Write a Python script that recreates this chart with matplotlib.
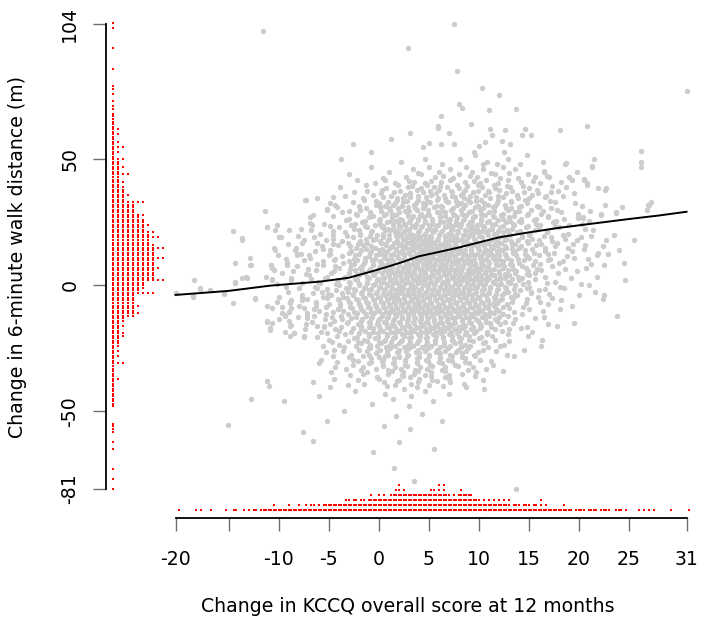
import matplotlib
matplotlib.use("Agg")
import matplotlib.pyplot as plt
import numpy as np

# ---------------------------------------------------------------
# scatter: KCCQ change values (x) read per walk-distance level (y)
# ---------------------------------------------------------------
walk_levels = list(range(50, -49, -1))
kccq_rows = [
    [-3.8, 4.6, 8.1, 12.9, 21.5],                                   # 50
    [2.2, 10.8, 16.4, 26.2],
    [6.3, 10.4, 11.8, 14.1, 18.6],
    [-0.8, 5.0, 8.7, 12.4, 21.3, 26.2],
    [3.4, 7.1, 10.4, 13.6],
    [1.0, 6.0, 9.3, 16.5, 19.8],                                    # 45
    [-3.0, 4.2, 8.0, 11.6, 14.9],
    [2.7, 5.6, 9.8, 15.6, 17.0, 19.0],
    [-2.2, 0.6, 7.1, 10.7, 12.9, 19.3, 20.5],
    [3.5, 6.2, 8.6, 14.2, 18.2],
    [-1.3, 1.9, 4.8, 7.8, 9.9, 11.5, 20.8],                         # 40
    [-3.9, 2.9, 5.5, 6.8, 10.3, 13.1, 18.7],
    [0.3, 3.8, 6.0, 8.6, 12.0, 15.8, 22.6],
    [-2.5, 1.5, 4.4, 7.3, 9.4, 11.0, 14.5, 17.2],
    [-0.6, 2.6, 5.2, 6.5, 8.2, 10.6, 13.8, 15.3],
    [-4.6, 0.4, 3.1, 4.7, 7.6, 9.7, 12.4, 16.6],                    # 35
    [-7.3, -1.5, 1.8, 3.9, 5.8, 8.9, 10.2, 11.9, 14.6],
    [-2.6, 0.9, 2.4, 5.1, 6.9, 9.1, 13.2, 17.6],
    [-4.4, -0.3, 1.4, 3.5, 4.6, 7.8, 8.6, 10.9, 12.6, 22.6, 27.0],
    [-4.2, 0.1, 2.9, 5.5, 6.3, 9.6, 11.4, 14.0, 16.0, 24.3],
    [-5.2, -1.9, 1.1, 3.8, 4.9, 7.2, 8.2, 10.1, 12.9, 15.2, 17.8, 26.8],  # 30
    [-3.7, -0.9, 2.0, 2.8, 5.8, 6.6, 9.0, 11.0, 13.6, 18.2, 23.7],
    [-6.6, -2.2, 0.5, 1.7, 4.1, 5.0, 7.5, 8.7, 10.6, 12.2, 14.8, 22.2],
    [-6.9, -1.0, 1.3, 3.3, 4.5, 6.1, 7.8, 9.4, 11.5, 13.0, 16.9, 19.9, 20.4],
    [-3.3, 0.0, 2.3, 3.9, 5.3, 6.9, 8.4, 10.2, 11.9, 15.5],
    [-1.7, 0.8, 1.9, 3.0, 4.6, 6.4, 7.0, 9.1, 10.8, 12.7, 14.2, 17.4],     # 25
    [-10.2, -6.7, -2.8, -0.4, 1.4, 2.6, 5.0, 5.9, 7.6, 8.9, 9.8, 11.3, 13.5, 16.1, 19.0],
    [-11.2, -4.0, -1.2, 0.3, 2.1, 3.6, 4.2, 6.6, 8.1, 10.5, 12.1, 14.7, 18.0],
    [-10.4, -9.0, -6.8, -2.0, 0.6, 1.1, 3.0, 4.8, 5.6, 7.2, 8.6, 9.5, 11.0, 12.8, 15.6, 21.4],
    [-3.4, -0.8, 1.6, 2.5, 3.9, 5.4, 6.2, 7.9, 9.9, 10.7, 12.4, 13.8, 16.8],
    [-4.6, -1.9, -0.2, 1.0, 2.2, 3.4, 4.5, 6.0, 7.1, 8.4, 9.2, 10.9, 11.7, 13.1, 15.0, 18.4, 23.5],  # 20
    [-10.0, -9.8, -6.5, -2.6, 0.4, 1.8, 3.0, 4.1, 5.2, 6.6, 7.6, 8.9, 10.3, 12.0, 14.3, 17.2, 20.2],
    [-13.7, -7.5, -5.3, -0.6, 0.9, 2.6, 3.8, 4.9, 5.8, 7.3, 8.0, 9.6, 11.2, 12.6, 13.9, 16.0, 19.8, 22.7],
    [-7.7, -6.2, -3.1, -1.2, 0.2, 1.5, 2.8, 4.4, 5.5, 6.8, 8.4, 9.8, 10.9, 12.2, 14.9, 17.8],
    [-4.1, -1.6, 0.7, 2.0, 3.3, 4.0, 5.1, 6.3, 7.0, 8.8, 9.3, 10.5, 11.8, 13.3, 15.7, 20.6],
    [-10.5, -8.3, -2.3, -0.4, 1.1, 2.4, 3.6, 4.7, 6.0, 7.4, 8.1, 9.9, 11.4, 12.7, 14.0, 16.6, 18.9],  # 15
    [-10.4, -8.4, -4.9, -1.8, 0.0, 1.7, 2.9, 3.4, 5.0, 6.6, 7.7, 8.6, 10.0, 11.1, 12.3, 14.6, 24.0],
    [-3.0, -0.9, 0.6, 2.0, 3.0, 4.4, 5.6, 6.2, 7.9, 9.2, 10.4, 11.9, 13.4, 15.5, 17.5],
    [-10.1, -8.2, -7.0, -5.0, -2.4, -0.3, 1.2, 2.5, 3.9, 4.9, 6.0, 7.1, 8.4, 9.5, 10.9, 12.0, 13.7, 16.0, 21.8],
    [-12.9, -6.9, -1.4, 0.5, 1.9, 3.2, 4.3, 5.4, 6.5, 7.6, 8.9, 10.1, 11.4, 12.8, 15.0, 19.5],
    [-7.5, -4.5, -2.2, -0.7, 0.9, 2.2, 3.5, 4.1, 5.7, 6.9, 8.0, 8.7, 10.2, 11.6, 13.2, 14.5, 16.9],  # 10
    [-14.4, -9.2, -3.6, -1.5, 0.2, 1.4, 2.7, 3.8, 5.0, 6.2, 7.3, 8.5, 9.6, 11.0, 12.3, 14.0, 18.0],
    [-12.8, -10.8, -5.6, -2.8, -0.6, 0.6, 2.0, 3.1, 4.5, 5.5, 6.6, 7.8, 9.1, 10.4, 11.9, 13.3, 15.4, 22.5],
    [-10.7, -4.0, -1.9, 0.0, 1.2, 2.4, 3.6, 4.8, 6.1, 7.2, 8.3, 9.8, 10.8, 12.4, 14.7, 20.7],
    [-10.5, -6.3, -2.4, -1.0, 0.7, 1.8, 2.9, 4.1, 5.2, 6.4, 7.5, 8.9, 10.0, 11.2, 12.9, 16.2],
    [-9.7, -4.8, -3.0, -1.4, 0.3, 1.5, 2.6, 3.5, 4.6, 5.9, 7.0, 8.1, 9.3, 10.6, 12.0, 13.6, 15.6, 17.9],  # 5
    [-7.0, -2.0, -0.5, 1.0, 2.1, 3.2, 4.3, 5.4, 6.7, 7.9, 9.0, 10.2, 11.5, 13.0, 15.0],
    [-13.7, -13.2, -8.8, -5.4, -3.5, -1.0, 0.5, 1.6, 2.8, 4.0, 5.1, 6.0, 7.4, 8.6, 9.8, 11.0, 12.6, 14.3, 19.2],
    [-18.5, -10.7, -8.8, -4.1, -2.2, -0.2, 1.1, 2.3, 3.7, 4.5, 5.8, 6.9, 8.3, 9.5, 10.8, 12.1, 14.0, 24.6],
    [-14.4, -7.7, -5.9, -2.9, -1.2, 0.2, 1.4, 2.6, 3.9, 5.0, 6.3, 7.6, 8.8, 10.0, 11.5, 13.1, 16.8],
    [-4.0, -2.0, -0.6, 0.8, 2.0, 3.2, 4.4, 5.5, 6.7, 7.9, 9.1, 10.4, 11.9, 13.6, 21.0],  # 0
    [-17.9, -8.0, -6.2, -3.3, -1.5, 0.0, 1.3, 2.4, 3.4, 4.9, 6.1, 7.2, 8.5, 9.6, 11.1, 12.7, 14.8, 18.5],
    [-16.9, -4.3, -2.4, -1.0, 0.5, 1.7, 2.9, 4.0, 5.3, 6.5, 7.6, 9.0, 10.3, 11.8, 14.1, 16.0],
    [-20.3, -15.5, -6.6, -3.7, -1.8, -0.3, 1.0, 2.2, 3.4, 4.6, 5.9, 7.0, 8.2, 9.6, 11.0, 12.5, 15.2],
    [-18.6, -7.7, -4.8, -2.6, -0.8, 0.6, 1.8, 3.0, 4.2, 5.5, 6.6, 7.9, 9.3, 10.7, 12.3, 13.8, 20.0],
    [-12.4, -5.2, -3.2, -1.4, 0.1, 1.4, 2.5, 3.8, 5.0, 6.2, 7.4, 8.7, 10.0, 11.6, 13.4, 17.3],  # -5
    [-8.8, -7.7, -4.0, -2.1, -0.5, 0.9, 2.0, 3.3, 4.4, 5.7, 7.0, 8.1, 9.5, 10.9, 12.1],
    [-14.6, -8.9, -6.3, -2.9, -1.1, 0.4, 1.6, 2.9, 4.0, 5.2, 6.4, 7.7, 9.0, 10.4, 11.8, 14.7],
    [-11.2, -8.0, -6.3, -3.9, -1.9, -0.3, 1.1, 2.3, 3.6, 4.8, 6.0, 7.2, 8.4, 9.9, 11.5, 19.3],
    [-10.7, -8.8, -7.5, -2.7, -0.9, 0.6, 1.8, 3.1, 4.3, 5.6, 6.8, 8.0, 9.4, 10.9, 13.0],
    [-6.0, -3.6, -1.6, 0.0, 1.4, 2.6, 3.9, 5.1, 6.3, 7.6, 8.8, 10.3, 12.0, 16.4],  # -10
    [-9.7, -7.2, -2.2, -0.5, 1.0, 2.2, 3.4, 4.7, 5.9, 7.1, 8.5, 9.9, 11.5],
    [-9.4, -6.5, -3.8, -1.3, 0.3, 1.7, 2.9, 4.2, 5.4, 6.7, 8.0, 9.4, 11.0, 12.9],
    [-7.2, -2.8, -0.8, 0.8, 2.3, 3.6, 4.9, 6.2, 7.6, 9.0, 10.6, 15.6],
    [-11.2, -9.0, -4.5, -1.8, -0.1, 1.4, 2.8, 4.1, 5.5, 6.8, 8.3, 9.9, 11.8],
    [-10.7, -3.2, -0.9, 0.7, 2.1, 3.5, 4.9, 6.3, 7.6, 9.2, 11.1, 13.4],  # -15
    [-8.9, -6.2, -5.5, -1.8, 0.0, 1.5, 3.0, 4.4, 5.8, 7.2, 8.6, 10.2, 17.8],
    [-10.9, -2.6, -0.6, 1.0, 2.5, 4.0, 5.4, 6.9, 8.4, 10.1, 14.2],
    [-4.0, -1.4, 0.4, 2.0, 3.5, 5.0, 6.5, 8.0, 9.7, 12.3],
    [-8.5, -5.2, -2.0, -0.1, 1.6, 3.1, 4.7, 6.2, 7.8, 9.5],
    [-8.9, -7.5, -4.2, -1.0, 0.8, 2.5, 4.1, 5.7, 7.3, 9.0, 11.3, 14.9],  # -20
    [-2.5, -0.4, 1.4, 3.0, 4.7, 6.4, 8.2, 10.0],
    [-3.1, -1.2, 0.5, 2.2, 3.9, 5.6, 7.4, 9.4, 13.0],
    [-1.8, 0.2, 2.0, 3.8, 5.6, 7.6, 10.4],
    [-5.6, -2.3, -0.2, 1.6, 3.4, 5.2, 7.1, 9.1, 12.1],
    [-0.9, 1.1, 3.0, 4.9, 6.9, 8.9],                                 # -25
    [-3.6, -1.2, 0.8, 2.7, 4.6, 6.6, 8.7, 11.7],
    [-0.3, 1.9, 4.0, 6.1, 8.3],
    [-4.6, -1.6, 0.6, 2.8, 5.0, 7.3, 9.6, 13.5],
    [-0.8, 1.5, 3.8, 6.1, 8.6],
    [-2.1, 0.3, 2.6, 4.9, 7.3, 11.2],                                # -30
    [-6.0, -1.0, 1.4, 3.8, 6.3, 9.0],
    [0.4, 2.8, 5.3, 7.9],
    [-3.3, -0.3, 2.2, 4.8, 10.7],
    [1.3, 3.9, 6.6, 12.4],
    [-1.6, 0.9, 3.5, 8.3],                                           # -35
    [2.4, 5.2, 9.6],
    [-4.5, 0.0, 4.0, 7.0],
    [-11.2, 1.8, 5.8],
    [-1.5, 3.2, 8.5],
    [-11.0, 0.8, 6.4],                                               # -40
    [2.5, 10.5],
    [-2.4, 4.6],
    [0.6, 7.0],
    [-6.0, 3.2],
    [-12.8, 1.4],                                                    # -45
    [-9.5, 5.4],
    [-0.7],
    [3.0],
]

# second pass over the dense band (patients between the whole-metre levels)
walk_levels_b = [v + 0.5 for v in range(44, -42, -1)]
kccq_rows_b = [
    [3.9, 11.2, 13.0],                                               # 44.5
    [6.4, 9.1, 16.8],
    [0.4, 7.4, 12.1, 13.9],
    [3.0, 5.2, 9.5, 15.4],
    [-0.4, 1.6, 4.6, 10.1, 11.9, 16.1],
    [3.3, 6.1, 8.8, 12.8, 14.4, 17.3],                               # 39.5
    [0.7, 4.2, 8.0, 11.6, 15.0, 21.9],
    [-1.2, 2.1, 5.1, 7.2, 9.9, 10.9, 13.3, 17.9],
    [0.2, 3.1, 5.7, 8.4, 12.7, 15.9, 19.5],
    [-3.4, 1.2, 3.9, 7.3, 9.1, 11.9, 16.7, 18.4],
    [-1.6, 1.8, 2.4, 5.9, 6.6, 8.5, 11.1, 13.9, 15.0],               # 34.5
    [-0.3, 2.8, 4.8, 6.7, 7.7, 9.7, 13.2, 17.1],
    [-4.9, 0.0, 1.6, 3.7, 4.4, 7.9, 8.2, 10.5, 11.8, 14.8, 19.6],
    [-2.0, 0.6, 2.3, 5.7, 6.2, 9.9, 11.6, 14.2, 15.8, 20.3],
    [-1.3, 1.0, 1.9, 3.6, 4.4, 7.4, 8.4, 10.4, 12.7, 13.2, 17.2],
    [-3.0, 0.2, 2.6, 3.0, 6.2, 9.3, 11.5, 14.0, 16.4, 21.1],         # 29.5
    [-2.3, 0.7, 1.3, 4.2, 4.9, 7.4, 8.3, 10.2, 12.4, 14.9, 16.2, 19.9],
    [-4.6, -0.6, 2.9, 3.4, 6.1, 6.6, 9.6, 11.4, 13.5, 16.9],
    [-3.0, 0.1, 2.1, 3.9, 5.3, 7.1, 8.5, 10.2, 12.4, 14.2, 15.7, 18.5],
    [-1.4, 1.2, 1.7, 3.1, 4.6, 6.1, 7.7, 9.3, 11.0, 13.1, 14.0, 17.7, 21.0],
    [-5.5, -2.4, 0.1, 2.5, 3.7, 5.4, 7.8, 8.2, 10.1, 11.6, 13.4, 15.7, 20.3],  # 24.5
    [-4.9, -1.4, 0.4, 2.0, 3.3, 4.3, 6.8, 7.2, 9.3, 10.4, 12.4, 14.9, 17.6],
    [-7.8, -2.5, 0.9, 1.5, 2.8, 5.1, 5.6, 7.3, 9.1, 9.8, 11.3, 13.3, 15.9, 20.6],
    [-4.6, -0.7, 1.9, 2.5, 4.0, 6.3, 7.8, 9.1, 10.3, 11.9, 14.1, 16.8],
    [-5.9, -1.9, 0.4, 2.0, 3.1, 4.6, 6.9, 7.2, 8.6, 9.4, 11.5, 13.0, 15.1, 18.9],
    [-8.1, -3.2, -0.9, 0.4, 1.7, 2.8, 3.9, 5.1, 6.6, 7.7, 8.9, 10.0, 12.4, 14.3, 16.5, 21.2],  # 19.5
    [-4.6, -1.3, -0.4, 1.0, 2.4, 3.5, 4.7, 5.9, 7.1, 8.3, 9.5, 11.3, 12.7, 15.3, 18.6],
    [-3.7, -1.9, 0.1, 1.8, 3.2, 4.3, 5.2, 6.6, 7.7, 8.7, 10.4, 11.8, 13.2, 14.8, 17.3],
    [-9.1, -4.6, -2.1, 0.6, 2.2, 3.5, 4.9, 6.1, 7.6, 9.0, 10.3, 11.6, 13.6, 16.2, 19.4],
    [-5.7, -2.9, -0.8, 1.3, 2.6, 3.9, 4.6, 5.7, 6.8, 7.7, 9.8, 11.2, 12.6, 14.2, 17.6, 22.4],
    [-5.6, -1.3, 0.3, 1.7, 3.0, 4.2, 5.4, 6.6, 7.8, 9.2, 10.6, 12.0, 13.3, 15.3, 20.5],  # 14.5
    [-6.4, -2.8, -0.8, 0.8, 2.3, 4.1, 4.6, 5.7, 7.2, 8.2, 9.2, 10.6, 11.8, 13.6, 16.6, 19.3],
    [-7.8, -4.9, -2.0, 0.1, 1.4, 2.5, 3.7, 5.0, 6.8, 7.3, 8.6, 9.8, 11.2, 12.6, 14.6, 16.9, 22.9],
    [-3.7, -1.0, 0.6, 1.8, 3.2, 4.4, 5.3, 6.5, 7.6, 9.0, 10.2, 11.5, 12.7, 14.8, 18.8],
    [-9.3, -4.4, -2.5, -0.4, 1.2, 2.5, 3.7, 4.8, 6.0, 7.0, 8.2, 9.5, 10.7, 12.0, 13.9, 17.1, 20.9],
    [-5.6, -3.0, -1.4, 0.1, 1.4, 2.8, 4.7, 5.1, 6.3, 7.5, 9.2, 10.3, 10.9, 12.4, 15.6, 18.4],  # 9.5
    [-6.2, -2.5, -0.6, 0.9, 2.0, 3.3, 4.4, 5.6, 6.7, 7.9, 9.0, 10.2, 11.7, 13.1, 16.1, 21.2],
    [-8.2, -4.4, -1.7, 0.1, 1.3, 2.6, 3.8, 5.0, 6.1, 7.2, 8.4, 9.6, 10.9, 12.5, 14.3, 17.3],
    [-7.1, -2.9, -0.9, 0.6, 1.8, 3.0, 4.2, 5.5, 6.7, 7.8, 9.1, 10.2, 11.5, 13.4, 15.8, 18.6],
    [-8.6, -4.5, -1.7, -0.2, 1.2, 2.3, 3.5, 4.6, 5.8, 7.0, 8.2, 9.5, 10.7, 12.0, 13.7, 14.9, 19.8],
    [-7.3, -2.2, -0.6, 0.9, 2.0, 3.1, 4.1, 5.3, 6.5, 7.6, 8.7, 9.9, 11.2, 12.6, 14.8],  # 4.5
    [-11.3, -5.2, -3.4, -1.2, 0.4, 1.6, 2.7, 3.8, 4.9, 6.1, 7.3, 8.4, 9.6, 10.8, 12.1, 13.9, 16.6, 21.8],
    [-6.8, -2.4, -0.1, 1.1, 2.2, 3.4, 4.6, 5.7, 6.8, 7.9, 9.1, 10.3, 11.7, 13.3, 15.6],
    [-6.1, -3.0, -1.2, 0.4, 1.7, 2.9, 4.0, 5.2, 6.4, 7.6, 8.8, 10.1, 11.4, 12.9, 14.9, 17.6],
    [-10.2, -4.3, -2.0, -0.4, 0.8, 2.0, 3.3, 4.5, 5.6, 6.9, 8.1, 9.4, 10.6, 12.2, 14.4, 20.2],
    [-9.3, -6.4, -3.0, -1.4, 0.1, 1.2, 2.4, 3.6, 4.9, 6.1, 7.3, 8.6, 9.8, 11.1, 12.6, 15.0, 18.1],  # -0.5
    [-5.2, -2.5, -0.8, 0.6, 1.9, 3.0, 4.2, 5.5, 6.7, 7.9, 9.1, 10.5, 11.9, 13.5, 16.6],
    [-9.1, -5.7, -3.1, -1.7, -0.2, 1.1, 2.3, 3.5, 4.7, 5.9, 7.1, 8.4, 9.7, 11.0, 12.9, 15.2, 21.6],
    [-5.1, -2.6, -1.0, 0.4, 1.6, 2.8, 4.0, 5.2, 6.5, 7.6, 8.9, 10.3, 11.7, 13.6, 17.0],
    [-10.0, -5.6, -3.6, -1.6, -0.1, 1.2, 2.5, 3.6, 4.8, 6.1, 7.3, 8.5, 9.9, 11.5, 13.2, 15.9],
    [-7.2, -4.1, -2.3, -0.6, 0.8, 1.9, 3.2, 4.4, 5.6, 6.8, 8.1, 9.3, 10.8, 12.3, 14.8, 22.4],  # -5.5
    [-10.2, -6.3, -3.0, -1.3, 0.2, 1.5, 2.6, 3.9, 5.1, 6.4, 7.6, 8.8, 10.2, 11.5, 13.3, 16.1],
    [-5.0, -3.9, -2.0, -0.4, 1.0, 2.2, 3.5, 4.6, 5.9, 7.1, 8.4, 9.6, 11.0, 12.8, 16.9],
    [-9.7, -5.3, -2.9, -1.1, 0.4, 1.7, 2.9, 4.1, 5.4, 6.6, 7.9, 9.1, 10.6, 12.4, 14.4],
    [-6.5, -4.1, -1.8, -0.2, 1.2, 2.4, 3.6, 4.9, 6.1, 7.4, 8.6, 10.0, 11.7, 15.0, 18.1],
    [-9.0, -4.6, -2.5, -0.8, 0.7, 2.0, 3.2, 4.5, 5.7, 6.9, 8.2, 9.6, 11.1, 13.5],  # -10.5
    [-5.3, -3.1, -1.3, 0.3, 1.6, 2.9, 4.1, 5.3, 6.6, 7.9, 9.2, 10.6, 12.4, 14.3],
    [-8.1, -4.7, -2.3, -0.7, 0.9, 2.3, 3.5, 4.8, 6.1, 7.3, 8.7, 10.3, 12.0, 16.5],
    [-10.0, -5.4, -3.7, -1.7, 0.0, 1.5, 2.9, 4.2, 5.5, 6.9, 8.3, 9.7, 11.6, 13.6],
    [-6.7, -3.1, -1.0, 0.5, 2.0, 3.4, 4.7, 6.1, 7.5, 9.0, 10.7, 12.6],
    [-7.3, -4.9, -2.1, -0.2, 1.3, 2.8, 4.2, 5.6, 7.0, 8.4, 10.1, 12.1, 16.9],  # -15.5
    [-3.8, -1.0, 0.8, 2.3, 3.7, 5.1, 6.5, 8.0, 9.4, 11.2, 14.8],
    [-7.4, -4.4, -1.8, 0.1, 1.7, 3.2, 4.7, 6.1, 7.6, 9.2, 11.6, 13.0],
    [-9.4, -5.8, -2.8, -0.6, 1.2, 2.7, 4.2, 5.7, 7.2, 8.7, 10.8, 15.3],
    [-3.4, -1.0, 0.8, 2.3, 3.9, 5.4, 7.0, 8.6, 10.8, 12.9],
    [-6.2, -2.2, -0.1, 1.6, 3.2, 4.8, 6.4, 8.0, 10.2],                 # -20.5
    [-5.0, -1.5, 0.6, 2.3, 4.0, 5.6, 7.3, 9.0, 11.6, 16.3],
    [-4.7, -2.1, 0.0, 1.2, 3.1, 4.8, 6.5, 8.1, 10.6],
    [-4.0, -0.9, 1.1, 2.9, 4.7, 6.5, 8.6, 12.5],
    [-3.5, -1.0, 0.7, 2.5, 4.3, 6.1, 8.2, 10.9],
    [-4.5, -2.0, 0.1, 2.0, 3.9, 5.8, 7.9, 10.4, 14.5],                # -25.5
    [-5.3, -0.2, 1.8, 3.7, 5.7, 7.7, 9.9],
    [-2.8, -1.0, 0.9, 2.9, 5.0, 7.1, 9.5, 12.8],
    [-3.0, 0.0, 2.0, 4.0, 6.1, 8.3],
    [-5.8, -2.6, 0.4, 2.6, 4.7, 6.9, 10.1],
    [-4.2, -0.8, 1.5, 3.8, 6.0, 8.6],                                 # -30.5
    [-2.6, 0.4, 2.6, 5.1, 7.6, 11.4],
    [-4.4, -1.6, 1.6, 4.1, 6.6, 9.4],
    [-1.8, 0.9, 3.6, 6.3, 8.9],
    [-4.8, -1.2, 2.4, 5.2, 9.7],
    [-2.9, 2.3, 4.6, 7.0],                                            # -35.5
    [-0.2, 3.1, 6.6],
    [-2.1, 2.0, 5.3, 10.4],
    [-6.6, 0.5, 3.9, 7.1],
    [-3.1, 1.6, 5.0],
    [-4.9, 3.8, 8.7],                                                 # -40.5
]

# single points away from the bulk (upper tail, lower tail, sides)
extra_kccq = [-11.6, 2.9, 7.5, 7.8, 10.3, 12.0, 8.0, 8.3, 11.0, 13.7, 30.8,
              6.2, 5.9, 5.9, 9.2, 18.1, 20.8, 14.3, 14.6, 12.6, 11.1, 11.3,
              12.3, 13.1, 10.6, 10.0, 7.0, 7.5, 6.2, 5.0, 4.4, 12.5, 9.5,
              9.6, 14.8, 15.2, 26.2, -2.6, 1.2, 3.1, -0.8,
              22.7, 23.7, 26.9, 27.2, 26.8, 21.3, 18.7, 20.5, 20.8, 19.0,
              16.5, 17.2, 19.9, 20.4, 22.2, 18.2, 21.9, 24.5, 22.5, 23.8,
              19.5, 25.5, 16.2,
              -11.4, -7.4, -6.2, -5.2, -14.6, -13.7, -11.2, -10.0, -12.9,
              -14.4, -17.9, -18.6, -15.5, -13.3, -12.4, -10.8, -9.2, -10.7,
              -8.9, -11.2, -10.9, -9.4, -8.8, -7.7, -8.2, -6.9, -7.2, -8.5,
              -7.5, -5.5,
              -3.5, 4.3, 1.7, -5.2, 6.3, -15.1, 0.5, -7.6, 3.1, -6.6, 2.0,
              5.5, -0.6, 1.5, 3.5, 13.7]
extra_walk = [101, 94, 103.7, 85, 78.5, 75.4, 72, 70.5, 69.6, 69.9, 77,
              67, 63.4, 62.3, 64, 61.5, 63.3, 59.7, 61.9, 61.7, 62, 59.7,
              57.3, 56, 57, 55.3, 60.4, 56, 56, 56.4, 55, 53, 53,
              51.7, 51.7, 59.7, 53.5, 56, 58, 60.5, 53,
              38.5, 28.8, 32, 33.2, 30, 47.4, 48.4, 42.1, 40.5, 43.1,
              45.5, 37.2, 26.9, 26.9, 28.3, -6, 13, 9, -4, -12,
              -15, 18, -24,
              29.6, 33.9, 34.6, 30.3, 21.7, 18.9, 23.3, 19.3, 8.1,
              1.5, -1.5, -4.5, -3.4, 3.2, -5.5, 8.1, 8.1, 2.4,
              -6.7, -14.4, -17.7, -11.7, -15.7, -5.1, 12.5, 24.6, -11.7, -19,
              -20.4, -16.4,
              -50, -51, -52, -54, -54, -55.5, -56, -58.3, -57, -61.9, -62,
              -65, -66, -72.4, -77.5, -80.7]

# smoothed (lowess) curve
smooth_kccq = [-20.3, -15, -10.8, -5.8, -3, -0.8, 1, 2.5, 4, 6.2, 8, 10,
               12, 15, 18, 20, 22, 25, 28, 30.8]
smooth_walk = [-3.8, -2.2, -0.1, 1.5, 3, 5.4, 7.5, 9.4, 11.5, 13.4, 15,
               17, 19, 21, 22.8, 23.8, 24.8, 26.3, 27.7, 29.2]

# marginal dot strip for walk distance: dots per 1 m level, 104 down to -81
walk_strip_levels = list(range(104, -82, -1))
walk_strip_counts = (
    [1, 0, 1, 0, 0, 0, 0, 0, 0, 0] + [1, 0, 0, 0, 0, 0, 0, 0, 1, 0] +
    [0, 0, 0, 0, 0, 1, 1, 0, 1, 0] + [0, 1, 0, 1, 1, 0, 1, 1, 1, 1] +
    [1, 1, 2, 1, 2, 1, 1, 2, 1, 3] + [1, 2, 1, 1, 3, 2, 2, 3, 2, 2] +
    [4, 2, 2, 3, 2, 3, 3, 3, 4, 3] + [3, 7, 5, 5, 5, 5, 7, 6, 7, 7] +
    [8, 7, 7, 9, 8, 10, 8, 8, 9, 11] + [9, 9, 9, 11, 9, 9, 9, 10, 9, 9] +
    [9, 9, 11, 7, 7, 7, 6, 9, 5, 5] + [5, 5, 6, 5, 5, 6, 5, 3, 3, 2] +
    [3, 2, 2, 3, 3, 2, 2, 2, 2, 1] + [2, 1, 2, 1, 1, 3, 1, 1, 1, 1] +
    [1, 2, 1, 1, 1, 1, 1, 1, 1, 1] + [1, 1, 1, 0, 0, 0, 0, 0, 0, 1] +
    [1, 1, 1, 0, 0, 0, 1, 0, 0, 1] + [0, 0, 0, 0, 0, 0, 0, 1, 0, 0] +
    [0, 1, 0, 0, 0, 1]
)

# marginal dot strip for KCCQ: dots per 0.25 point bin, -20 to 31
kccq_strip_bins = np.arange(-20, 31.01, 0.25)
kccq_strip_counts = (
    [1, 0, 0, 0] + [0, 0, 0, 1] + [0, 1, 0, 0] + [0, 1, 0, 0] +      # -20 .. -17
    [0, 0, 0, 1] + [0, 0, 1, 1] + [0, 0, 1, 0] + [1, 0, 1, 1] +      # -16 .. -13
    [0, 1, 1, 1] + [1, 1, 2, 1] + [1, 1, 1, 1] + [2, 1, 1, 1] +      # -12 .. -9
    [2, 1, 1, 2] + [1, 2, 2, 1] + [2, 1, 2, 2] + [2, 2, 2, 2] +      # -8 .. -5
    [2, 2, 2, 3] + [3, 2, 3, 3] + [2, 3, 3, 2] + [3, 4, 3, 3] +      # -4 .. -1
    [4, 3, 4, 3] + [3, 4, 4, 5] + [6, 4, 5, 4] + [4, 4, 4, 4] +      # 0 .. 3
    [4, 4, 4, 4] + [4, 5, 5, 4] + [6, 4, 6, 4] + [4, 3, 4, 3] +      # 4 .. 7
    [4, 5, 4, 4] + [4, 4, 3, 3] + [3, 2, 3, 2] + [3, 2, 3, 2] +      # 8 .. 11
    [3, 2, 3, 2] + [3, 1, 2, 2] + [2, 1, 2, 2] + [2, 1, 2, 2] +      # 12 .. 15
    [1, 3, 1, 2] + [1, 1, 1, 1] + [1, 1, 2, 1] + [1, 1, 0, 1] +      # 16 .. 19
    [1, 1, 1, 0] + [1, 1, 1, 1] + [0, 1, 1, 1] + [1, 0, 0, 1] +      # 20 .. 23
    [1, 1, 0, 1] + [0, 0, 0, 0] + [1, 0, 1, 0] + [1, 0, 1, 0] +      # 24 .. 27
    [0, 0, 0, 0] + [0, 1, 0, 0] + [0, 0, 0, 0] + [1]                 # 28 .. 31
)

assert len(walk_levels) == len(kccq_rows)
assert len(walk_levels_b) == len(kccq_rows_b)
assert len(walk_strip_levels) == len(walk_strip_counts)
assert len(kccq_strip_bins) == len(kccq_strip_counts)

kccq = ([x for row in kccq_rows for x in row] +
        [x for row in kccq_rows_b for x in row] + extra_kccq)
walk = ([y for y, row in zip(walk_levels, kccq_rows) for _ in row] +
        [y for y, row in zip(walk_levels_b, kccq_rows_b) for _ in row] +
        extra_walk)

plt.rcParams['font.family'] = ['DejaVu Sans']

fig = plt.figure(figsize=(7.04, 6.28), dpi=100)
ax = fig.add_axes([0.1506, 0.1752, 0.8324, 0.793])
ax.set_xlim(-27.25, 31.35)
ax.set_ylim(-92.3, 105.3)

ax.scatter(kccq, walk, s=15, color='#cccccc', linewidths=0, zorder=2)
ax.plot(smooth_kccq, smooth_walk, color='black', lw=1.4, zorder=3)

# marginal strips (stacked dots)
red = '#ff0000'
sx, sy = [], []
for lev, n in zip(walk_strip_levels, walk_strip_counts):
    for k in range(n):
        sx.append(-26.55 + 0.5 * k)
        sy.append(lev)
ax.scatter(sx, sy, s=3.2, marker='s', color=red, linewidths=0, zorder=4,
           clip_on=False)

bx, by = [], []
for b, n in zip(kccq_strip_bins, kccq_strip_counts):
    for k in range(n):
        bx.append(b)
        by.append(-89.1 + 1.984 * k)
ax.scatter(bx, by, s=3.2, marker='s', color=red, linewidths=0, zorder=4,
           clip_on=False)

# R-style axes: span data range, ticks at min / pretty / max
for side in ['top', 'right']:
    ax.spines[side].set_visible(False)
ax.spines['left'].set_bounds(min(walk), max(walk))
ax.spines['bottom'].set_bounds(min(kccq), max(kccq))
for side in ['left', 'bottom']:
    ax.spines[side].set_linewidth(1.3)

yt = [min(walk), -50, 0, 50, max(walk)]
ax.set_yticks(yt)
ax.set_yticklabels([f"{v:.0f}" for v in yt], rotation=90, va='center')
xt = [min(kccq), -15, -10, -5, 0, 5, 10, 15, 20, 25, max(kccq)]
ax.set_xticks(xt)
ax.set_xticklabels([f"{v:.0f}" if v != -15 else '' for v in xt])

ax.tick_params(axis='both', length=9.4, width=1.0, color='#6e6e6e',
               labelsize=13.6, labelcolor='black')
ax.tick_params(axis='x', pad=14)
ax.tick_params(axis='y', pad=9.8)

fig.text(407.5 / 704, 1 - 607 / 628, "Change in KCCQ overall score at 12 months",
         ha='center', va='center', fontsize=13.6)
fig.text(18 / 704, 1 - 256.5 / 628, "Change in 6-minute walk distance (m)",
         ha='center', va='center', rotation=90, fontsize=13.6)

fig.savefig("out.png", dpi=100)
